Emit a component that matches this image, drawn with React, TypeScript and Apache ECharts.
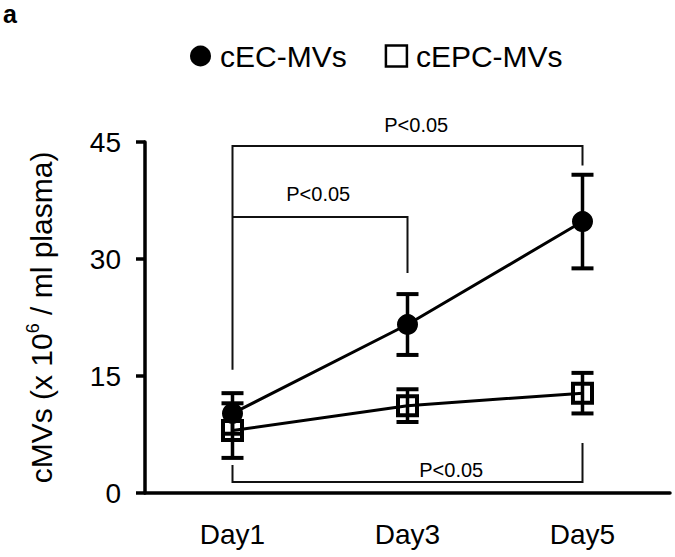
import React, { useEffect, useRef } from "react";
import * as echarts from "echarts";

const categories = ["Day1", "Day3", "Day5"];
const ecMean = [10.2, 21.6, 34.8];
const ecErr = [2.6, 3.9, 6.0];
const epcMean = [8.0, 11.2, 12.8];
const epcErr = [3.5, 2.1, 2.6];
const yTicks = { min: 0, max: 45, interval: 15 };
// [x1 index, x2 index, y of bar, y end of left leg, y end of right leg]
const brackets = [
  [0, 2, 44.5, 15.8, 42.0],
  [0, 1, 35.4, 35.4, 28.2],
  [0, 2, 1.4, 3.6, 6.4],
];
// [x (category units), y]
const bracketLabelPos = [
  [1.05, 47.2],
  [0.49, 38.3],
  [1.25, 3.0],
];
const bracketTexts = ["P<0.05", "P<0.05", "P<0.05"];

const FONT = "'Liberation Sans', Arial, Helvetica, sans-serif";

function xAt(api: any, xf: number, y: number) {
  const p0 = api.coord([0, y]);
  const p1 = api.coord([1, y]);
  return [p0[0] + xf * (p1[0] - p0[0]), p0[1]];
}

export default function App() {
  const ref = useRef<HTMLDivElement>(null);
  useEffect(() => {
    document.body.style.margin = "0";
    if (!ref.current) return;
    const chart = echarts.init(ref.current, null, { renderer: "svg" });
    const errData = (mean: number[], err: number[]) =>
      mean.map((m, i) => [i, m - err[i], m + err[i]]);
    const errRender = (params: any, api: any) => {
      const x = api.value(0);
      const lo = api.coord([x, api.value(1)]);
      const hi = api.coord([x, api.value(2)]);
      const half = 11;
      const st = { stroke: "#000", lineWidth: 3.5 };
      return {
        type: "group",
        children: [
          { type: "line", shape: { x1: lo[0], y1: lo[1], x2: hi[0], y2: hi[1] }, style: st },
          { type: "line", shape: { x1: hi[0] - half, y1: hi[1], x2: hi[0] + half, y2: hi[1] }, style: { stroke: "#000", lineWidth: 4 } },
          { type: "line", shape: { x1: lo[0] - half, y1: lo[1], x2: lo[0] + half, y2: lo[1] }, style: { stroke: "#000", lineWidth: 4 } },
        ],
      };
    };
    const option: any = {
      animation: false,
      backgroundColor: "#fff",
      textStyle: { fontFamily: FONT },
      grid: { left: 145, top: 142, right: 5, bottom: 64 },
      legend: {
        left: 190,
        top: 41,
        padding: 0,
        itemWidth: 21,
        itemHeight: 21,
        itemGap: 38,
        textStyle: { fontSize: 30, color: "#000", fontFamily: FONT, padding: [0, 0, 0, 4] },
        data: [
          { name: "cEC-MVs", icon: "circle", itemStyle: { color: "#000", borderWidth: 0 } },
          { name: "cEPC-MVs", icon: "rect", itemStyle: { color: "#fff", borderColor: "#000", borderWidth: 2.5 } },
        ],
      },
      graphic: [
        {
          type: "text",
          left: 3,
          top: 1,
          style: { text: "a", font: "bold 25px 'Liberation Sans', Arial, sans-serif", fill: "#000" },
        },
      ],
      xAxis: {
        type: "category",
        data: categories,
        boundaryGap: true,
        axisLine: { lineStyle: { color: "#000", width: 3.5 } },
        axisTick: { alignWithLabel: true, length: 9, lineStyle: { color: "#000", width: 3.5 } },
        axisLabel: { fontSize: 28, color: "#000", margin: 27, fontFamily: FONT },
        splitLine: { show: false },
      },
      yAxis: {
        type: "value",
        min: yTicks.min,
        max: yTicks.max,
        interval: yTicks.interval,
        axisLine: { show: true, lineStyle: { color: "#000", width: 3.5 } },
        axisTick: { show: true, length: 9, lineStyle: { color: "#000", width: 3.5 } },
        axisLabel: { fontSize: 28, color: "#000", margin: 24, fontFamily: FONT },
        splitLine: { show: false },
        name: "{n|cMVs (x 10}{s|6}{n| / ml plasma)}",
        nameLocation: "middle",
        nameGap: 89,
        nameTextStyle: {
          fontFamily: FONT,
          color: "#000",
          rich: {
            n: { fontSize: 30, fontFamily: FONT, color: "#000", verticalAlign: "bottom" },
            s: { fontSize: 18, fontFamily: FONT, color: "#000", verticalAlign: "bottom", padding: [0, 0, 14, 0] },
          },
        },
      },
      series: [
        {
          name: "bracketLines",
          type: "custom",
          clip: false,
          silent: true,
          z: 1,
          data: brackets,
          encode: { x: [0, 1], y: [2, 3, 4] },
          renderItem: (params: any, api: any) => {
            const x1 = api.value(0), x2 = api.value(1);
            const yl = api.value(2), y1 = api.value(3), y2 = api.value(4);
            const a = api.coord([x1, y1]);
            const b = api.coord([x1, yl]);
            const c = api.coord([x2, yl]);
            const d = api.coord([x2, y2]);
            return {
              type: "polyline",
              shape: { points: [a, b, c, d] },
              style: { stroke: "#111", lineWidth: 2, fill: null },
            };
          },
        },
        {
          name: "bracketLabels",
          type: "custom",
          clip: false,
          silent: true,
          z: 1,
          data: bracketLabelPos,
          encode: { x: 0, y: 1 },
          renderItem: (params: any, api: any) => {
            const p = xAt(api, api.value(0), api.value(1));
            return {
              type: "text",
              x: p[0],
              y: p[1],
              style: {
                text: bracketTexts[params.dataIndex],
                fontSize: 20,
                fontFamily: FONT,
                fill: "#000",
                align: "center",
                verticalAlign: "middle",
              },
            };
          },
        },
        {
          name: "ecErr",
          type: "custom",
          clip: false,
          z: 2,
          data: errData(ecMean, ecErr),
          encode: { x: 0, y: [1, 2] },
          renderItem: errRender,
        },
        {
          name: "epcErr",
          type: "custom",
          clip: false,
          z: 2,
          data: errData(epcMean, epcErr),
          encode: { x: 0, y: [1, 2] },
          renderItem: errRender,
        },
        {
          name: "cEC-MVs",
          type: "line",
          data: ecMean,
          symbol: "circle",
          symbolSize: 21,
          z: 3,
          itemStyle: { color: "#000" },
          lineStyle: { color: "#000", width: 3 },
        },
        {
          name: "cEPC-MVs",
          type: "line",
          data: epcMean,
          symbol: "rect",
          symbolSize: 19,
          z: 3,
          itemStyle: { color: "rgba(255,255,255,0)", borderColor: "#000", borderWidth: 4 },
          lineStyle: { color: "#000", width: 3 },
        },
      ],
    };
    chart.setOption(option);
    return () => chart.dispose();
  }, []);
  return <div ref={ref} style={{ width: 675, height: 557 }} />;
}
